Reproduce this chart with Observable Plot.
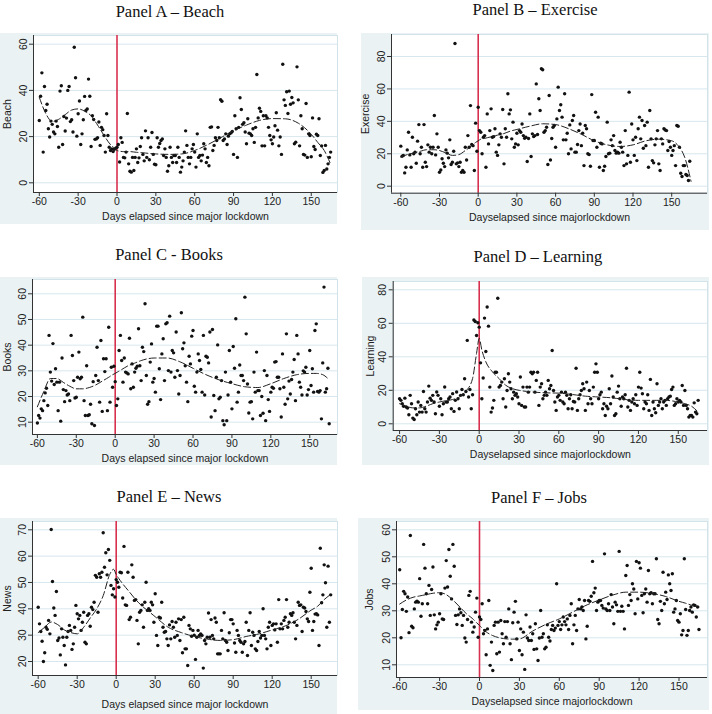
<!DOCTYPE html>
<html><head><meta charset="utf-8">
<script src="https://cdn.jsdelivr.net/npm/d3@7"></script>
<script src="https://cdn.jsdelivr.net/npm/@observablehq/plot@0.6"></script>
<style>
body{margin:0;background:#fff;}
#wrap{position:relative;width:712px;height:714px;overflow:hidden;background:#fff;}
.title{position:absolute;font-family:"Liberation Serif","Times New Roman",serif;font-size:16.5px;color:#111;white-space:nowrap;transform:translate(-50%,-50%);line-height:1;}
.panel{position:absolute;}
</style></head><body><div id="wrap"></div><script>
// Daily values, first value = day -60
const beach = [27,37.5,47.6,13.3,41.7,31.3,34,23.4,19.8,26.7,25.3,22,21.2,26.7,24.4,15.4,39.7,42,16.6,28.7,22.4,28,40,41.7,26.5,27.3,22,58.7,45.5,20.2,29.9,35.4,16.6,21.2,27.3,37.4,31.3,32,44.9,37.5,15.7,29,27.4,18.8,19,19.5,26.3,16.2,24,23,20.5,13.3,29.9,20.5,15.4,14,14.7,13.5,14.5,15,
15.4,16.6,9,19.5,17.5,11,10.8,13.3,30,8.2,5,4.6,11,5.3,11,14.7,8.8,10.8,15.7,19.5,12.3,9.5,22.5,11,19.5,10,15.4,21.8,12.3,8,7.8,19.5,15.4,17,
18.3,19,11.8,14.7,11,5,7.4,15.4,11,8.8,11.8,11.8,8.8,15.4,11,4.6,6.8,9.5,13.3,22.5,16.2,11,8.2,11,14.7,16.6,13.3,6.8,21.2,11,11.8,9.5,12,
16.9,14.7,8.8,11,7.4,24,24.2,14,16.2,19.5,18.3,24,19.5,36,35.3,18.3,19,21.2,16.6,20.2,21.2,21.6,22.2,12.3,29,23.4,11,24,36.8,31.7,25.3,26,22,
16.9,27.7,21.5,21.2,20.5,23.4,17.5,24,46.9,28.1,32.3,30.9,16,29,16,29,28.1,24,20.5,18.6,16.9,19.8,24.7,30.3,22.8,16,19.8,12.3,51.3,35.9,33.5,39.4,30,
39.7,34,36.9,34.6,16.9,17.6,50.2,35.9,16,29,23.4,12.3,12,34.3,11,21.2,20.5,11.3,28.1,15.7,14.4,
21,20.5,27.7,11.8,16,4.5,5.3,16.2,6,8.2,11,13.3];
const exercise = [24.7,18.5,19,8.2,11.7,22.4,33.3,19.3,11.7,30.2,20,21,14.2,27.8,38,20,24,11.7,38,14.8,12.1,25.5,21,24,20,24,43.6,19.3,32.3,24,8.6,10,16.9,14.2,12.1,22.4,20.4,17.5,28.6,13.4,14.8,21.6,88,13.8,14.4,12.1,14.8,8.6,9.7,8.6,24,16.2,31.2,24,49.7,25.7,25,9.7,38.9,21.6,
48.7,34.3,33.3,20,30.2,31.2,11.7,44.6,26.1,34.3,47.7,30.2,30.6,35.4,21,19,25.5,32.3,30.2,47.3,13.8,35.4,30.2,57,44.6,47.1,29.2,39.5,24,26.1,
32.7,25.5,34.3,33.3,38.4,31.2,29.6,30.2,15.2,29.4,44.6,18.3,32.3,30.6,31.2,63.1,31.9,53.9,46.7,72.4,71.8,33.3,34.3,36.4,13.4,55.9,16.2,29.4,36.4,37.4,
24,41.5,61.1,46.7,50.2,42.6,28.6,57,28.6,32.7,20,37.8,23,40.5,43.6,21,21,25.7,34.3,38.4,25,32.7,12.7,37.4,35.4,20,19.5,12.3,56.5,28.2,
28.2,45.6,24,42.6,11.7,26.5,26.1,9.7,12.3,18.3,39.5,20,20.4,28.6,25,31.2,22,20.4,21,20.4,27.1,24,21,12.7,34.3,13.8,19,58,14.8,38.4,
28.6,19,30.2,15.8,35.4,42.6,29.2,40.5,23.4,37.4,25,39.5,11.7,46.7,29.2,15.8,14.4,25.5,29.2,34.3,13.8,9.7,29.2,26.1,35.4,34.7,34.3,22,27.6,24,
19,22,25,12.7,37.4,37,24,8,6,12.7,12.7,7.2,6.6,3.5,15.4];
const books = [9.7,12.6,11.6,15.2,14.5,18.4,21.4,23.2,16.5,43.8,29.5,26,40.6,24.7,30.8,25.6,14.5,25.6,10.4,35,22.7,18,22.3,20.6,21,18.4,43.8,36,26.2,19.4,19.7,27.5,37.3,26.9,27.5,50.9,18.4,12.6,32,12.6,12.9,17,9.4,25.8,8.7,28.2,39.2,26.2,17.8,41.8,14.2,34.7,29.7,34.7,14.5,47,17.8,31.4,23.6,31.8,
25.8,16.5,19.1,37.9,43.8,34,25.6,35,29.5,29.2,28.8,42.7,23,32.7,23.6,29.5,31,31.8,46.4,32,26.2,39.2,37.5,56.1,28.2,17,18,33.4,40.5,25.6,27,
21.7,47.4,47.4,30.8,18.8,36.6,42.5,26.2,48.3,48.7,30.1,51.3,29.5,37.9,37,27.5,45.1,30.1,21,28.2,52.6,38.6,40.9,32,25.6,18,35.7,32.7,43.5,45.7,24,
21.7,29.5,36.6,34,30.5,21.7,43.8,20.6,35.7,35.3,33.1,45.1,12,46.1,20.4,14.5,27.5,40.1,19.1,19.7,26.2,10.6,9,29.5,10.6,20.6,37.9,25.6,15.2,39.5,31,
50.3,17.8,21.7,32.3,28.2,28.2,26.2,58.7,44.4,24.9,13.6,17.8,18,11.3,29.5,21.7,37.3,22.3,22.3,12.6,20,
13.5,30.1,10.6,28.2,18.8,14.2,21.7,23.6,23.2,33.4,33.6,27.5,27.5,23,12,36.6,23.6,17,44.4,19.1,26,
21,26.6,29.5,34.4,18.4,43.8,36.6,25.6,23.6,20.6,30,29.5,31.4,20.6,22.7,37.9,24.3,30.8,21.7,45.7,48.3,22,
21.7,22.3,11.3,33.1,62.6,21.7,23,31,9.4];
const learning = [15,14,12,10.5,15.3,10,9.4,5.4,17,12,3.4,2.6,9,5.4,13,7,11,7,19.3,9,7,13,22.5,15.3,14,17,13,6,19,17,10.5,15,5.4,12,22,13,13,15,16,9,18,7.4,14,19,15,9,17,20.5,17.3,26.9,19.3,49.8,16,20.5,9,17.3,62,61.1,52.7,60.3,
57.7,36.4,15,27.3,63.1,43.2,69.7,58.3,21.9,7,9.4,14,30.8,30.8,75,21.9,22.9,24.9,15,26.9,10,19.9,29.9,24.9,20.9,15,18.9,17,17.9,16,
12,27.9,11,21.9,10,10,21.9,18.9,21.9,30.8,29.9,30.8,18.9,25.9,30.8,11,21.9,23.9,15,17,18.9,17,25.9,20.9,22.9,43.8,19.9,13,8,16,
17,14,18.9,13,12,18.9,17,9,15,17.3,9,13.3,13,33.2,8,15,17.3,19.9,23.9,20.9,8,24.9,12,19.9,15,12,21.9,30.8,35.8,30.8,
15,17.3,18.9,9,12,5,10.5,9,20.9,12,28.5,16,5,6,18.9,22.5,15,10.5,16,15,17.3,33.2,10,14,8,13,15,12,17.3,11,
21.9,30.8,21.3,17.9,9,13,12,17.3,8,26.5,5,13,9,6.6,23.9,11,13,15,9,13,14,11,15,16,16.5,20.5,21.9,11,12,15,
13,14,13,22.9,11,19.9,11,9,4,5,5,4,12.5,7,6,14];
const news = [40.6,34.3,31.4,27.7,20,23.3,33,32.2,35.6,30.5,70.1,50.4,40.3,37.5,46.6,28,28.9,22.5,32.4,29.2,26.1,18.7,29.2,31.4,33.7,31.8,24.6,26.7,33,41.3,38.1,36.2,37.5,31.8,34.9,38.7,27.3,26.7,37.5,38.1,33.4,40.6,39.7,42.5,52.7,52,38.7,53.3,52,53.9,68.9,55.8,61.3,52.9,62.5,58.4,48.9,45.3,47.6,44.5,
51.1,50.1,48.2,53.9,53.7,44.1,63.7,41.5,41.3,53.9,35.9,36.8,56.7,52,43.2,43.5,35.6,26.7,38.7,39.4,41.5,33,42.5,50.1,39.4,40,39.4,42.5,41.5,34.9,
45.7,29.9,26.1,36.8,36.5,42.5,33,31.1,31.4,28.6,26.1,33.9,28.6,35.2,33,29.2,34.9,29.9,36.2,28,35.9,23.3,36.8,24.8,24.8,18.5,33.7,32.4,29.6,31.8,30,
20.8,29.2,31.8,29.9,30.5,29.9,17.5,28,26.7,29.2,38.4,29.2,35.9,29.9,28.6,36.5,34.9,22.9,22.9,22.9,31.8,28.6,38.5,28,27.3,24.2,30.9,35.9,35.9,34.3,27,
23.5,31.8,29.9,28,27.3,23.5,26.7,27.6,34.9,22.3,31.8,38.5,26.1,31.1,29.9,24.8,24.2,27.6,31.4,28.9,29.9,40,29.9,28.6,24.8,33,34.9,26.1,33.7,34.3,32,
34.3,27.3,43.5,32.4,34.3,32.4,35.6,36.8,43.5,33,34.9,38.1,37.5,38.5,34.9,28.6,33.7,42.5,41.3,41.5,31.4,40.6,40.3,39,36.2,35.2,46.3,55.4,31.8,35.2,38,
38.1,37.7,26.1,63,42.3,45.3,56.7,49.9,33,56.2,34.9,45.3];
const jobs = [45.2,20,30.5,37.2,36.3,29.8,35.1,21.9,57.9,24.3,23.7,30.7,33.2,33.6,33.2,41.9,28,32.6,54.6,45.8,36.3,32.6,39.4,28.3,37.9,46.2,28.5,23.3,24.8,25.8,28.9,36.3,27,26.8,38.4,48.6,38.8,52.7,42.8,34.4,54.6,46.5,28.3,24.9,28.5,30.7,29.3,24.6,28.3,19.9,18.4,26.8,35.7,37.2,25.8,22.1,24,29.5,34.7,20.2,
27.7,26.8,32.6,21.5,22.7,13.7,23.3,33.8,9.8,18.4,7.9,24.6,25.8,14.1,25.8,14.7,26.4,21.5,17.8,26,20.2,26,30.7,17.8,11.9,25.6,29.5,33.5,19.6,25.8,
15.3,23.3,13.7,22.1,8.3,28.5,19.9,19,24,19,21.5,15.7,25.2,15.9,11.6,19.9,30.1,20.2,21.5,15.9,16.5,24.8,20.2,18.8,23.1,24.6,22.7,23.6,40,24.6,
26,23.1,24.8,27.7,26,24.8,27,23.1,28.3,32.6,17.8,24.8,28.3,22.7,30.7,34.2,30.7,31.4,30.1,33.8,19.6,24.3,33.8,33.5,35.4,48.3,36.7,38.4,30.1,33.2,
33.8,33.8,32,31,51.1,30.7,30.1,32.6,30.1,36,31.4,25.2,33.2,32.2,29.8,52,29.8,31.7,29.8,23.3,43.1,46.8,32,36,33.8,40,38.1,28.9,48.3,34.4,
47.8,45.8,35.7,29.3,36.3,38.1,33.2,44.9,36.3,36.7,32.6,36.3,36.3,49.3,26.8,25.2,33.5,30.1,44.3,32.6,36.9,34.2,43.3,40,37.5,43.7,29.5,30.7,33.8,26.4,
25.8,28.9,21.1,22.7,49.3,30.5,20.9,22.7,30.1,31.4,29.5,32.2,32,27.7,31.4,23.1];

// Smoothed (dashed) fit, read at these days
const fitDays = [-60,-55,-50,-45,-40,-35,-30,-25,-20,-15,-10,-5,-2,0,2,5,10,15,20,25,30,40,50,60,70,80,90,100,110,120,130,140,150,155,160,165];
const beachFit    = [37,30,26.5,27.5,29.5,31.5,32,31,29,25,20.5,16.5,15,14,13.7,13.5,13.5,13.2,13,12.7,12.5,12.3,12.5,14,16.5,19.5,22.5,25,27,27.8,27.7,25.8,21,17.5,14,8];
const exerciseFit = [18,19.5,20.5,21.5,22.5,22.5,22,20.5,19,19.5,22,25,27,28,29,29.5,30.5,31.5,32.5,34,35,37,38.5,38,35.5,32,28,25.5,24.5,25.5,28,29,28,25,18,3];
const booksFit    = [16,22,27,27,25.5,24,23,23,23.5,24.5,26,27.5,28.5,29,29.6,30.5,32,33,34,34.7,35,35,33.5,31,28.5,26.5,25,23.8,23.5,25,27,28.5,29,29,28.5,26.5];
const learningFit = [12,10.5,9.5,9.5,10.5,12,13,13.8,14.5,16,19.5,27,42,51,44,37,31,27,23,21,20,19,18.5,18.3,17.5,16.5,16,15.5,14.5,14,14,14,13,12,10.5,7];
const newsFit     = [31,33,35,34,32,31,30.5,33,36.5,40,45,53,55,53,51.5,49.5,46.5,43.5,41,39,37,33,31,29.5,28.5,28,28.3,29.5,30.5,32,33.5,36,39.5,41,43.5,45.5];
const jobsFit     = [32.5,34,35,35.5,36,36.5,36.7,36,34,31.5,29,27,25.5,24.6,23.5,22.2,20.8,20,19.6,19.5,19.6,22.5,25,27,29.5,32,34,35.8,36.9,36.9,36.4,35.3,33.5,32.8,32,31.4];

// Tick labels
const xTicks = [-60,-30,0,30,60,90,120,150];
const beachTicks = [0,20,40,60];
const exerciseTicks = [0,20,40,60,80];
const booksTicks = [10,20,30,40,50,60];
const learningTicks = [0,20,40,60,80];
const newsTicks = [20,30,40,50,60,70];
const jobsTicks = [10,20,30,40,50,60];

const titles = ["Panel A \u2013 Beach","Panel B \u2013 Exercise","Panel C - Books","Panel D \u2013 Learning","Panel E \u2013 News","Panel F \u2013 Jobs"];
const yLabels = ["Beach","Exercise","Books","Learning","News","Jobs"];
const xLabels = ["Days elapsed since major lockdown","Dayselapsed since majorlockdown","Days elapsed since major lockdown","Dayselapsed since majorlockdown","Days elapsed since major lockdown","Dayselapsed since majorlockdown"];

const series = [beach, exercise, books, learning, news, jobs];
const fits = [beachFit, exerciseFit, booksFit, learningFit, newsFit, jobsFit];
const yTickSets = [beachTicks, exerciseTicks, booksTicks, learningTicks, newsTicks, jobsTicks];

// Layout (pixels)
const layout = [
  {tx:170, ty:12,  box:[0,33,337,224],   plot:[33,35,337,192],    x0:116.5, xk:1.295, ya:[0,182.3,60,43.7],  xlo:27.5, ylo:30},
  {tx:535, ty:10,  box:[361,33,709,230], plot:[391,34,707,192.7], x0:477.7, xk:1.29,  ya:[0,185.7,80,56],    xlo:27.5, ylo:30},
  {tx:169, ty:255, box:[0,277,337,465],  plot:[32,279,337,434],   x0:114.7, xk:1.297, ya:[10,421.7,60,293.3],xlo:27.5, ylo:29},
  {tx:538, ty:257, box:[362,277,709,465],plot:[392.7,281,707,430],x0:478.7, xk:1.327, ya:[0,423.3,80,289.3], xlo:27.5, ylo:27},
  {tx:169, ty:497, box:[0,518,337,714],  plot:[32,521,337,675],   x0:115.7, xk:1.3,   ya:[20,661,70,529.3],  xlo:32, ylo:29},
  {tx:539, ty:498, box:[358,518,709,710],plot:[396,521,707,677],  x0:479,   xk:1.33,  ya:[10,664.3,60,529.3],xlo:27.5, ylo:31}
];

const wrap = document.getElementById("wrap");
layout.forEach((L, i) => {
  const t = document.createElement("div");
  t.className = "title";
  t.style.left = L.tx + "px"; t.style.top = L.ty + "px";
  t.textContent = titles[i];
  wrap.appendChild(t);

  const [bx0, by0, bx1, by1] = L.box;
  const [pl, pt, pr, pb] = L.plot;
  const xd = [(pl - L.x0) / L.xk, (pr - L.x0) / L.xk];
  const [v1, p1, v2, p2] = L.ya;
  const yk = (p1 - p2) / (v2 - v1);
  const yd = [v1 - (pb - p1) / yk, v1 + (p1 - pt) / yk];

  const pts = series[i].map((v, j) => ({day: -60 + j, value: v}));
  const fit = fitDays.map((d, j) => ({day: d, value: fits[i][j]}));
  const ticks = yTickSets[i];

  const svg = Plot.plot({
    width: bx1 - bx0, height: by1 - by0,
    marginLeft: pl - bx0, marginTop: pt - by0, marginRight: bx1 - pr, marginBottom: by1 - pb,
    style: {background: "#eaf2f4", fontFamily: "'Liberation Sans', Arial, sans-serif", fontSize: "11px", color: "#222", overflow: "visible"},
    x: {domain: xd},
    y: {domain: yd},
    marks: [
      Plot.frame({fill: "white", stroke: "#d3e3ea"}),
      Plot.gridY(ticks, {stroke: "#d8e7ee", strokeOpacity: 1}),
      Plot.ruleX([0], {stroke: "#d8314f", strokeWidth: 1.6}),
      Plot.dot(pts, {x: "day", y: "value", r: 1.7, fill: "#111", stroke: null}),
      Plot.line(fit, {x: "day", y: "value", stroke: "#222", strokeWidth: 1, strokeDasharray: "7,3", curve: "monotone-x"}),
      Plot.ruleY([yd[0]], {stroke: "#333", strokeWidth: 1}),
      Plot.ruleX([xd[0]], {stroke: "#333", strokeWidth: 1}),
      Plot.axisX(xTicks, {tickFormat: d => String(d), tickSize: 4, tickPadding: 1, stroke: "#333", fontSize: 10.5, label: xLabels[i], labelAnchor: "center", labelArrow: "none", labelOffset: L.xlo}),
      Plot.axisY(ticks, {tickFormat: d => String(d), tickSize: 4, tickPadding: 3, tickRotate: -90, stroke: "#333", fontSize: 10.5, label: yLabels[i], labelAnchor: "center", labelArrow: "none", labelOffset: L.ylo})
    ]
  });
  svg.classList.add("panel");
  svg.style.left = bx0 + "px"; svg.style.top = by0 + "px";
  wrap.appendChild(svg);
});
</script></body></html>
